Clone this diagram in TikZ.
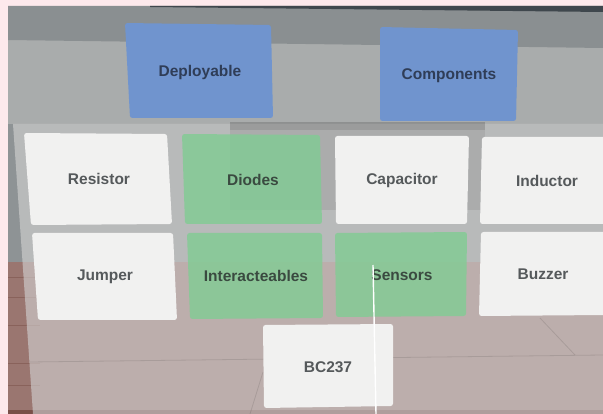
\documentclass[tikz,border=0pt]{standalone}
\usepackage{fontspec}
\setmainfont{Liberation Sans}
\definecolor{margin}{HTML}{FDE9EC}
\definecolor{band}{HTML}{8A8F91}
\definecolor{bandtop}{HTML}{3F474D}
\definecolor{wall}{HTML}{A9ACAC}
\definecolor{wallshade}{HTML}{8E9395}
\definecolor{wood}{HTML}{9A7670}
\definecolor{wooddark}{HTML}{7A4F48}
\definecolor{panelgrey}{HTML}{D4D4D4}
\definecolor{tilewhite}{HTML}{F1F1F0}
\definecolor{tileblue}{HTML}{7094CE}
\definecolor{tilegreen}{HTML}{80CC93}
\definecolor{txtgrey}{HTML}{55595B}
\definecolor{txtblue}{HTML}{2F3D57}
\definecolor{txtgreen}{HTML}{3A4A40}
\begin{document}
\begin{tikzpicture}[x=1pt,y=-1pt,
  tile/.style={rounded corners=2.5pt},
  whitetile/.style={tile,fill=tilewhite},
  bluetile/.style={tile,fill=tileblue},
  greentile/.style={tile,fill=tilegreen,fill opacity=0.8},
  tiletext/.style={font=\bfseries\fontsize{15.5}{18}\selectfont,inner sep=0pt,text=txtgrey},
  plank/.style={draw=wooddark,line width=0.8pt,opacity=0.5},
  floorline/.style={draw=black,line width=0.8pt,opacity=0.1}]
\useasboundingbox (0,0) rectangle (603,414);
% outer margin
\fill[margin] (0,0) rectangle (603,414);
% room: wall, ceiling band and floor
\fill[wall] (8,6) rectangle (603,262);
\fill[band] (8,6) -- (603,6) -- (603,48) -- (8,40) -- cycle;
\fill[bandtop] (150,6) -- (603,6) -- (603,12) -- (150,7) -- cycle;
\fill[wallshade] (8,124) rectangle (603,262);
\fill[wood] (8,262) rectangle (603,414);
\fill[wooddark] (8,410) rectangle (603,414);
\foreach \yy in {277,297,325,363,385} \draw[plank] (8,\yy) -- (40,\yy);
% translucent menu panel
\fill[panelgrey,opacity=0.6] (13,124) -- (603,124) -- (603,414) -- (33,414) -- cycle;
\draw[floorline] (30,362) -- (603,355);
\draw[floorline] (540,318) -- (575,355);
\draw[floorline] (263,372) -- (250,414);
% darker backing behind the first row
\fill[black,opacity=0.07] (230,122) rectangle (485,210);
\fill[black,opacity=0.09] (230,122) rectangle (485,130);
% header buttons
\fill[bluetile] (125,23) -- (271,25) -- (273,118) -- (130,118) -- cycle;
\node[tiletext,text=txtblue] (deployable) at (200,72) {Deployable};
\fill[bluetile] (380,27) -- (518,30) -- (516,121) -- (380,121) -- cycle;
\node[tiletext,text=txtblue] (components) at (449,76) {Components};
% first row
\fill[whitetile] (24,133) -- (167,134) -- (172,224) -- (31,225) -- cycle;
\node[tiletext] (resistor) at (99,179) {Resistor};
\fill[greentile] (182,134) -- (320,135) -- (322,224) -- (185,224) -- cycle;
\node[tiletext,text=txtgreen] (diodes) at (253,180) {Diodes};
\fill[whitetile] (335,136) -- (469,136) -- (467,224) -- (336,224) -- cycle;
\node[tiletext] (capacitor) at (402,180) {Capacitor};
\fill[whitetile] (482,137) -- (606,137) -- (606,224) -- (480,224) -- cycle;
\node[tiletext] (inductor) at (547,181) {Inductor};
% second row
\fill[whitetile] (32,233) -- (173,233) -- (177,320) -- (38,320) -- cycle;
\node[tiletext] (jumper) at (105,277) {Jumper};
\fill[greentile] (187,233) -- (322,233) -- (323,318) -- (190,319) -- cycle;
\node[tiletext,text=txtgreen] (interact) at (256,276) {Interacteables};
\fill[greentile] (335,233) -- (467,232) -- (466,316) -- (336,317) -- cycle;
\node[tiletext,text=txtgreen] (sensors) at (402,275) {Sensors};
\fill[whitetile] (481,232) -- (606,232) -- (606,315) -- (479,316) -- cycle;
\node[tiletext] (buzzer) at (543,274) {Buzzer};
% third row
\fill[whitetile] (263,325) -- (393,324) -- (393,406) -- (264,408) -- cycle;
\node[tiletext] (bc) at (328,367) {BC237};
% pointer ray
\coordinate (raystart) at (373,265);
\coordinate (rayend) at (376,414);
\draw[white,line width=1.4pt] (raystart) -- (rayend);
\end{tikzpicture}
\end{document}
